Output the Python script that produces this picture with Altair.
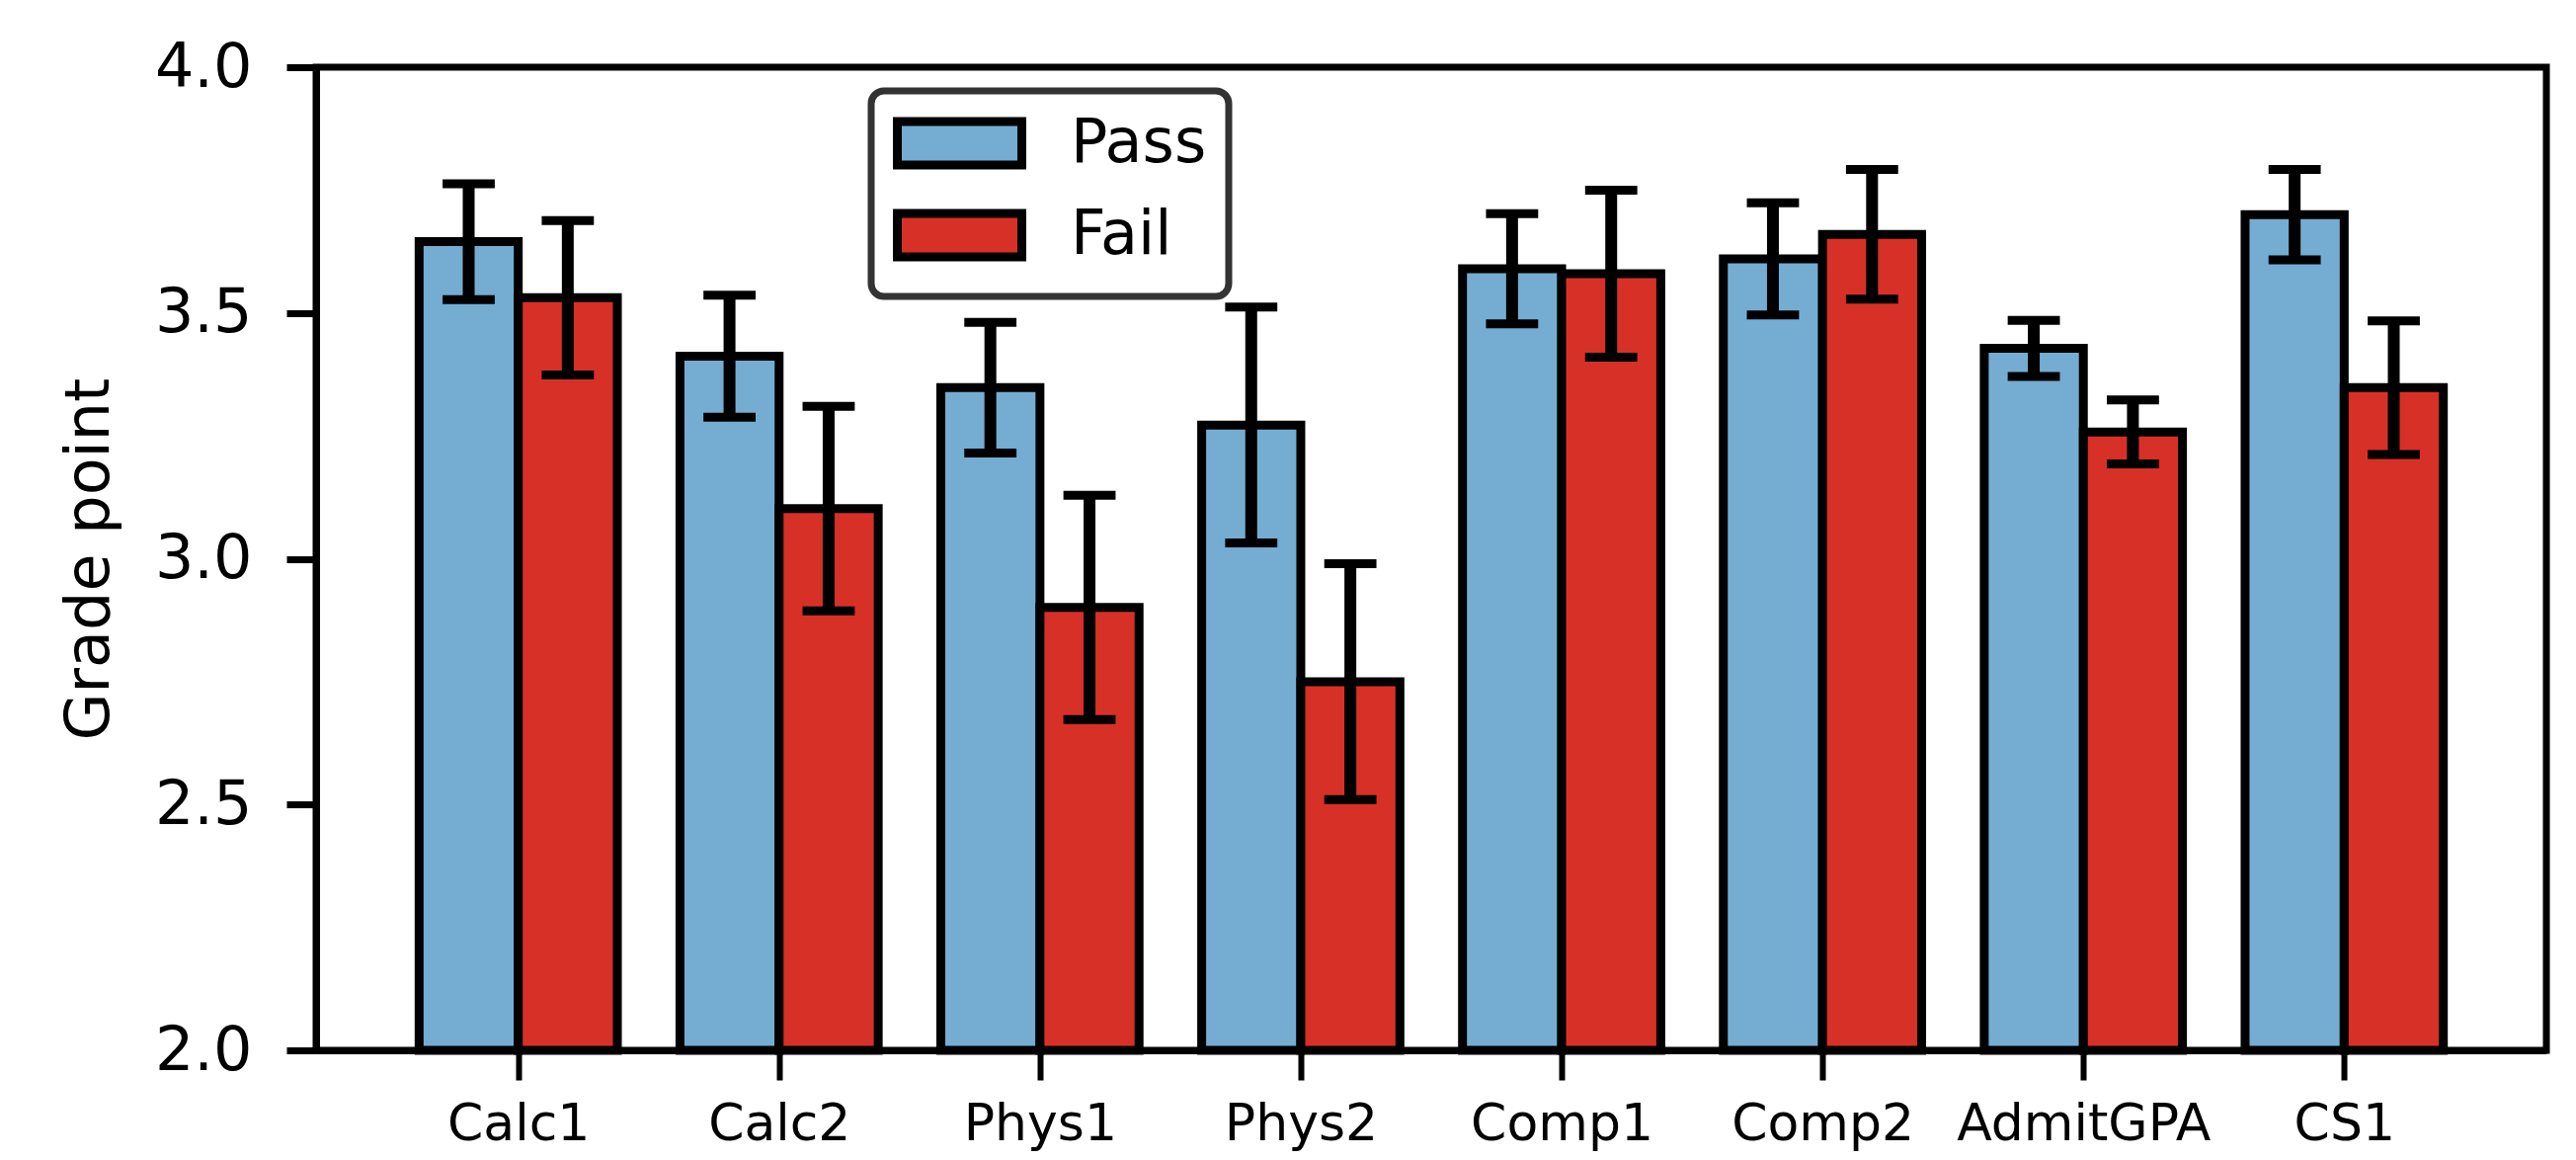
import altair as alt
import pandas as pd

courses = ["Calc1", "Calc2", "Phys1", "Phys2", "Comp1", "Comp2", "AdmitGPA", "CS1"]
pass_mean = [3.645, 3.412, 3.348, 3.272, 3.590, 3.610, 3.428, 3.700]
pass_err = [0.118, 0.124, 0.133, 0.240, 0.112, 0.114, 0.057, 0.092]
fail_mean = [3.531, 3.102, 2.901, 2.750, 3.580, 3.660, 3.258, 3.348]
fail_err = [0.157, 0.208, 0.228, 0.240, 0.170, 0.132, 0.065, 0.136]
groups = ["Pass", "Fail"]
colors = ["#74add1", "#d73027"]
y_ticks = [2.0, 2.5, 3.0, 3.5, 4.0]

BAR_W = 0.38
CAP_HALF = 0.10

rows = []
for i, c in enumerate(courses):
    rows.append({"course": c, "idx": i, "group": "Pass", "mean": pass_mean[i], "err": pass_err[i]})
    rows.append({"course": c, "idx": i, "group": "Fail", "mean": fail_mean[i], "err": fail_err[i]})
df = pd.DataFrame(rows)

label_expr = "[" + ",".join("'" + c + "'" for c in courses) + "][datum.value]"

base = alt.Chart(df).transform_calculate(
    x0=f"datum.group == 'Pass' ? datum.idx - {BAR_W} : datum.idx",
).transform_calculate(
    x1=f"datum.x0 + {BAR_W}",
    xc=f"datum.x0 + {BAR_W / 2}",
    lo="datum.mean - datum.err",
    hi="datum.mean + datum.err",
).transform_calculate(
    capL=f"datum.xc - {CAP_HALF}",
    capR=f"datum.xc + {CAP_HALF}",
)

xscale = alt.Scale(domain=[-0.775, 7.775], nice=False, zero=False)
yscale = alt.Scale(domain=[2.0, 4.0], nice=False, zero=False)

bars = base.mark_bar(stroke="black", strokeWidth=9, opacity=1).encode(
    x=alt.X("x0:Q", scale=xscale, axis=alt.Axis(
        values=list(range(len(courses))), labelExpr=label_expr, title=None,
        grid=False, tickSize=30, tickWidth=6, labelFontSize=52, labelPadding=19,
        labelLimit=500, labelOverlap=False,
        labelColor="black", tickColor="black", domainColor="black", domainWidth=7,
    )),
    x2="x1:Q",
    y=alt.Y("mean:Q", scale=yscale, axis=alt.Axis(
        values=y_ticks, format=".1f", title="Grade point", grid=False,
        tickSize=30, tickWidth=7, labelFontSize=62, labelPadding=35,
        titleFontSize=62, titleFontWeight="normal", titlePadding=34,
        labelColor="black", titleColor="black", tickColor="black",
        domainColor="black", domainWidth=7,
    )),
    y2=alt.datum(2.0),
    color=alt.Color("group:N", scale=alt.Scale(domain=groups, range=colors),
                    legend=alt.Legend(
                        title=None, orient="none", legendX=562, legendY=24,
                        symbolType="M-1.06,-0.88H3.98V0.88H-1.06Z", symbolSize=2500,
                        symbolStrokeColor="black", symbolStrokeWidth=9,
                        symbolOpacity=1,
                        labelFontSize=62, labelColor="black", labelOffset=118,
                        labelExpr="datum.label + '\u00a0'",
                        rowPadding=13, padding=22,
                        strokeColor="#333333", cornerRadius=13, fillColor="white",
                    )),
)

stems = base.mark_rule(color="black", strokeWidth=12).encode(
    x="xc:Q", y="lo:Q", y2="hi:Q"
)
caps_hi = base.mark_rule(color="black", strokeWidth=9).encode(
    x="capL:Q", x2="capR:Q", y="hi:Q"
)
caps_lo = base.mark_rule(color="black", strokeWidth=9).encode(
    x="capL:Q", x2="capR:Q", y="lo:Q"
)

chart = alt.layer(bars, stems, caps_hi, caps_lo).properties(
    width=2258, height=995,
    autosize=alt.AutoSizeParams(type="none"),
    padding={"left": 312, "top": 60, "right": 22, "bottom": 103},
).configure(
    font="DejaVu Sans",
).configure_view(
    stroke="black", strokeWidth=7,
).configure_legend(
    strokeWidth=7,
)

chart.save("out.html", embed_options={"renderer": "svg", "actions": False})
